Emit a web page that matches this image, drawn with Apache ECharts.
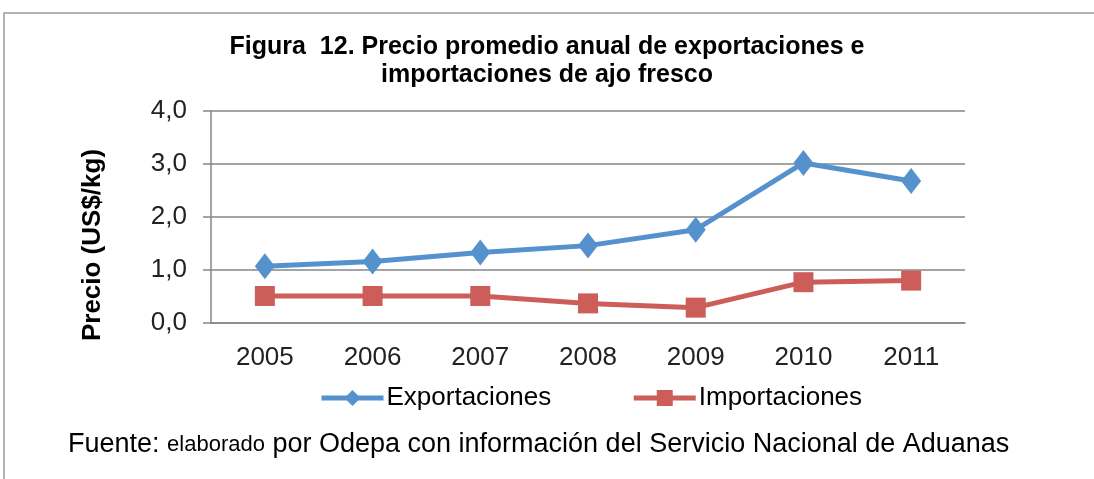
<!DOCTYPE html>
<html>
<head>
<meta charset="utf-8">
<script src="https://cdn.jsdelivr.net/npm/echarts@6/dist/echarts.min.js"></script>
<style>
  html, body { margin: 0; padding: 0; background: #fff; }
  #main { width: 1094px; height: 479px; }
</style>
</head>
<body>
<div id="main"></div>
<script>
const years = ['2005', '2006', '2007', '2008', '2009', '2010', '2011'];
const exportaciones = [1.07, 1.16, 1.33, 1.46, 1.76, 3.02, 2.68];
const importaciones = [0.51, 0.51, 0.51, 0.37, 0.29, 0.77, 0.80];
const yTicks = [0, 1, 2, 3, 4];

const chart = echarts.init(document.getElementById('main'));

// 1.5 -> "1,5"
const fmt = v => v.toFixed(1).replace('.', ',');

let option = {
  animation: false,
  color: ['#5591CD', '#CD5D58'],
  title: {
    text: 'Figura  12. Precio promedio anual de exportaciones e\nimportaciones de ajo fresco',
    left: 'center',
    top: 28,
    textStyle: {
      fontFamily: 'Liberation Sans',
      fontWeight: 'bold',
      fontSize: 25,
      lineHeight: 28,
      color: '#000'
    }
  },
  legend: {
    data: ['Exportaciones', 'Importaciones'],
    top: 380,
    left: 314,
    itemWidth: 62,
    itemHeight: 20,
    itemGap: 80,
    lineStyle: { width: 5 },
    textStyle: { fontFamily: 'Liberation Sans', fontSize: 26, color: '#000', padding: [0, 0, 0, -2] }
  },
  grid: {
    left: 211,
    right: 129,
    top: 111,
    bottom: 156
  },
  xAxis: {
    type: 'category',
    data: years,
    axisLine: { lineStyle: { color: '#868686', width: 1.5 } },
    axisTick: { length: 8, lineStyle: { color: '#868686', width: 1.5 } },
    axisLabel: { fontFamily: 'Liberation Sans', fontSize: 26, color: '#222', margin: 22 }
  },
  yAxis: {
    type: 'value',
    min: yTicks[0],
    max: yTicks[yTicks.length - 1],
    interval: 1,
    axisLine: { show: true, lineStyle: { color: '#868686', width: 1.5 } },
    axisTick: { show: true, inside: false, length: 8, lineStyle: { color: '#868686', width: 1.5 } },
    axisLabel: { fontFamily: 'Liberation Sans', fontSize: 26, color: '#222', margin: 24, formatter: fmt },
    splitLine: { lineStyle: { color: '#868686', width: 1.5 } }
  },
  graphic: [
    {
      type: 'rect',
      shape: { x: 4, y: 13, width: 1200, height: 600 },
      style: { fill: 'none', stroke: '#9a9a9a', lineWidth: 1.5 },
      silent: true
    },
    {
      // y axis title, sits a bit below the plot centre like the original
      type: 'text',
      x: 93,
      y: 245,
      rotation: Math.PI / 2,
      style: {
        text: 'Precio (US$/kg)',
        fontFamily: 'Liberation Sans',
        fontWeight: 'bold',
        fontSize: 26,
        fill: '#000',
        align: 'center',
        verticalAlign: 'middle'
      }
    },
    {
      type: 'text',
      left: 68,
      top: 431,
      style: {
        text: '{a|Fuente: }{b|elaborado}{a| por Odepa con información del Servicio Nacional de Aduanas}',
        rich: {
          a: { fontFamily: 'Liberation Sans', fontSize: 27, fill: '#000' },
          b: { fontFamily: 'Liberation Sans', fontSize: 22, fill: '#000' }
        }
      }
    }
  ],
  series: [
    {
      name: 'Exportaciones',
      type: 'line',
      data: exportaciones,
      symbol: 'diamond',
      symbolSize: [20, 26],
      lineStyle: { width: 5 }
    },
    {
      name: 'Importaciones',
      type: 'line',
      data: importaciones,
      symbol: 'rect',
      symbolSize: 20,
      lineStyle: { width: 5 }
    }
  ]
};

chart.setOption(option);
</script>
</body>
</html>
